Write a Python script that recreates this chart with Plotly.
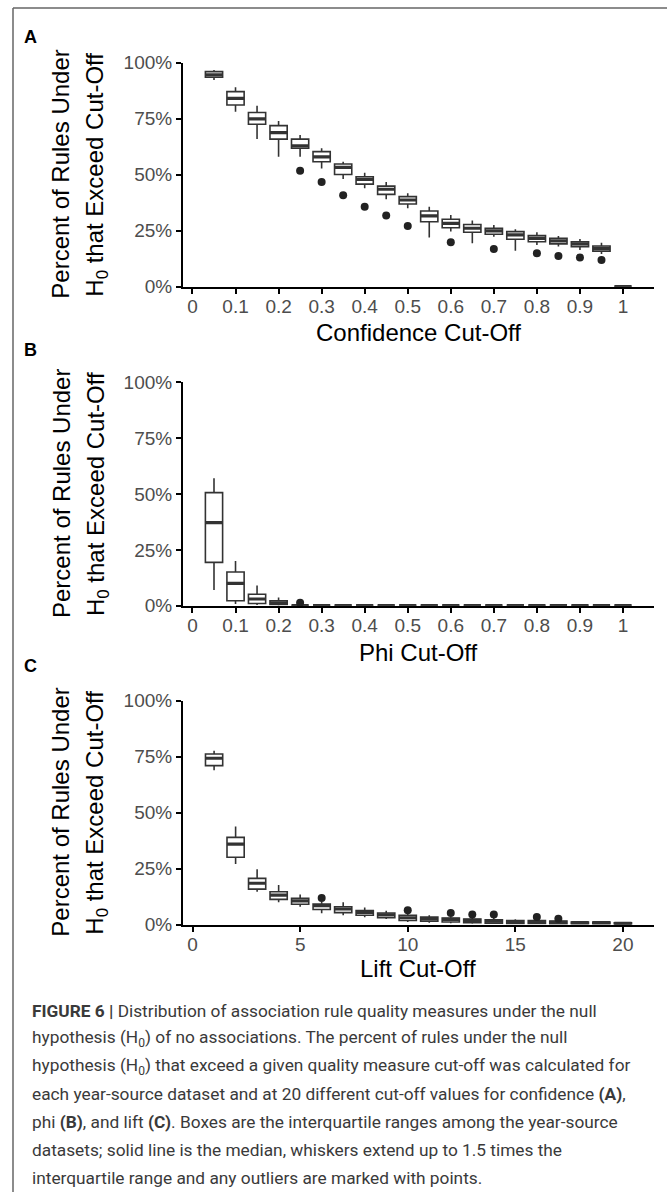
import plotly.graph_objects as go

W, H = 667, 1192

# ---------------- data ----------------
conf_x = [0.05, 0.10, 0.15, 0.20, 0.25, 0.30, 0.35, 0.40, 0.45, 0.50,
          0.55, 0.60, 0.65, 0.70, 0.75, 0.80, 0.85, 0.90, 0.95, 1.00]
conf_lo = [92.3, 78.1, 65.9, 58.0, 58.0, 52.8, 48.1, 43.9, 39.0, 35.0,
           22.0, 24.6, 19.4, 22.3, 16.1, 18.6, 17.9, 16.4, 14.6, 0.0]
conf_q1 = [93.5, 81.1, 72.5, 65.9, 61.8, 55.8, 50.1, 45.8, 41.2, 36.9,
           29.0, 26.3, 24.3, 23.4, 21.2, 20.1, 19.1, 17.9, 15.9, 0.0]
conf_med = [94.6, 84.1, 74.9, 68.8, 62.9, 58.0, 53.3, 47.9, 43.5, 38.7,
            31.6, 28.3, 26.1, 24.9, 23.1, 21.6, 20.5, 19.1, 17.1, 0.0]
conf_q3 = [96.0, 87.1, 77.8, 71.9, 65.9, 60.3, 54.8, 49.1, 44.9, 40.2,
           33.8, 30.1, 27.8, 26.1, 24.6, 22.8, 21.6, 20.1, 18.2, 0.0]
conf_hi = [96.7, 89.0, 80.8, 74.0, 67.7, 61.8, 55.8, 50.9, 46.7, 41.7,
           35.7, 32.0, 29.5, 27.5, 25.6, 24.3, 22.6, 21.3, 19.6, 0.0]
conf_out_x = [0.25, 0.30, 0.35, 0.40, 0.45, 0.50, 0.60, 0.70, 0.80, 0.85, 0.90, 0.95]
conf_out_y = [51.8, 46.7, 40.8, 35.7, 31.8, 27.1, 19.8, 16.8, 14.9, 13.7, 13.0, 11.9]

phi_x = conf_x
phi_lo = [7.0, 0.8, 0.3, 0.1] + [0.0] * 16
phi_q1 = [19.4, 2.2, 1.0, 0.6] + [0.0] * 16
phi_med = [37.2, 10.0, 3.0, 1.3] + [0.0] * 16
phi_q3 = [50.6, 15.1, 5.1, 2.2] + [0.0] * 16
phi_hi = [57.0, 20.0, 9.0, 3.7] + [0.0] * 16
phi_out_x = [0.25]
phi_out_y = [1.3]

lift_x = list(range(1, 21))
lift_lo = [69.0, 27.1, 14.7, 10.0, 8.0, 5.1, 4.2, 3.3, 2.5, 1.2,
           0.9, 0.7, 0.4, 0.4, 0.3, 0.3, 0.3, 0.3, 0.3, 0.1]
lift_q1 = [71.0, 30.1, 15.9, 11.3, 9.1, 6.8, 5.4, 4.2, 3.1, 1.9,
           1.6, 1.2, 0.9, 0.7, 0.6, 0.6, 0.4, 0.4, 0.4, 0.3]
lift_med = [74.3, 36.0, 18.5, 13.2, 10.6, 8.5, 7.0, 5.5, 4.4, 3.1,
            2.7, 2.4, 1.9, 1.6, 1.3, 1.2, 1.0, 0.9, 0.9, 0.6]
lift_q3 = [76.2, 39.0, 20.7, 14.7, 11.8, 9.2, 8.0, 6.3, 5.2, 4.2,
           3.4, 3.0, 2.5, 2.2, 1.9, 1.9, 1.6, 1.2, 1.2, 0.9]
lift_hi = [77.7, 43.8, 24.7, 17.7, 13.5, 10.3, 10.0, 7.7, 6.2, 4.9,
           4.2, 3.7, 3.4, 3.0, 2.4, 2.2, 1.9, 1.3, 1.5, 1.0]
lift_out_x = [6, 10, 12, 13, 14, 16, 17]
lift_out_y = [11.9, 6.4, 5.2, 4.6, 4.6, 3.4, 2.7]

cut_ticks = [0, 0.1, 0.2, 0.3, 0.4, 0.5, 0.6, 0.7, 0.8, 0.9, 1]
cut_ticktext = ["0", "0.1", "0.2", "0.3", "0.4", "0.5", "0.6", "0.7", "0.8", "0.9", "1"]
lift_ticks = [0, 5, 10, 15, 20]
lift_ticktext = ["0", "5", "10", "15", "20"]
y_ticks = [0, 25, 50, 75, 100]
y_ticktext = ["0%", "25%", "50%", "75%", "100%"]

x_titles = ["Confidence Cut-Off", "Phi Cut-Off", "Lift Cut-Off"]
panel_labels = ["A", "B", "C"]
caption_lines = [
    "<b>FIGURE 6 |</b> Distribution of association rule quality measures under the null",
    "hypothesis (H<sub>0</sub>) of no associations. The percent of rules under the null",
    "hypothesis (H<sub>0</sub>) that exceed a given quality measure cut-off was calculated for",
    "each year-source dataset and at 20 different cut-off values for confidence <b>(A)</b>,",
    "phi <b>(B)</b>, and lift <b>(C)</b>. Boxes are the interquartile ranges among the year-source",
    "datasets; solid line is the median, whiskers extend up to 1.5 times the",
    "interquartile range and any outliers are marked with points.",
]

# ---------------- layout helpers ----------------
def px(x):
    return x / W

def py(y):
    return 1 - y / H

FONT = "Liberation Sans, Arial, sans-serif"
BOXCOL = "#333333"
TICKCOL = "#4d4d4d"

panels = [
    dict(x=conf_x, lo=conf_lo, q1=conf_q1, med=conf_med, q3=conf_q3, hi=conf_hi,
         ox=conf_out_x, oy=conf_out_y, width=0.04, xr=[-0.022, 1.072],
         tv=cut_ticks, tt=cut_ticktext, top=62.7, bot=286.7,
         title_y=332, label_y=37),
    dict(x=phi_x, lo=phi_lo, q1=phi_q1, med=phi_med, q3=phi_q3, hi=phi_hi,
         ox=phi_out_x, oy=phi_out_y, width=0.04, xr=[-0.022, 1.072],
         tv=cut_ticks, tt=cut_ticktext, top=382.3, bot=605.7,
         title_y=652, label_y=350),
    dict(x=lift_x, lo=lift_lo, q1=lift_q1, med=lift_med, q3=lift_q3, hi=lift_hi,
         ox=lift_out_x, oy=lift_out_y, width=0.8, xr=[-0.445, 21.445],
         tv=lift_ticks, tt=lift_ticktext, top=700.7, bot=924.7,
         title_y=969, label_y=666),
]

fig = go.Figure()
annotations = []
layout_axes = {}
X0, X1 = 183, 654

for i, p in enumerate(panels):
    n = "" if i == 0 else str(i + 1)
    xa, ya = "x" + n, "y" + n
    fig.add_trace(go.Box(
        x=p["x"], q1=p["q1"], median=p["med"], q3=p["q3"],
        lowerfence=p["lo"], upperfence=p["hi"], width=p["width"],
        fillcolor="white", line=dict(color=BOXCOL, width=1.6),
        whiskerwidth=0, boxpoints=False, showlegend=False,
        xaxis=xa, yaxis=ya, hoverinfo="skip"))
    # thicker median line (ggplot style)
    mx, my = [], []
    hw = p["width"] / 2
    for xv, mv in zip(p["x"], p["med"]):
        mx += [xv - hw, xv + hw, None]
        my += [mv, mv, None]
    fig.add_trace(go.Scatter(x=mx, y=my, mode="lines",
                             line=dict(color=BOXCOL, width=3.2),
                             showlegend=False, xaxis=xa, yaxis=ya, hoverinfo="skip"))
    fig.add_trace(go.Scatter(x=p["ox"], y=p["oy"], mode="markers",
                             marker=dict(color="#222222", size=8),
                             showlegend=False, xaxis=xa, yaxis=ya, hoverinfo="skip",
                             cliponaxis=False))
    common = dict(ticks="outside", ticklen=5, tickwidth=1.5, tickcolor="black",
                  showline=True, linewidth=2, linecolor="black", showgrid=False,
                  zeroline=False, automargin=False, fixedrange=True,
                  tickfont=dict(family=FONT, size=19, color=TICKCOL))
    layout_axes["xaxis" + n] = dict(
        domain=[px(X0), px(X1)], range=p["xr"], anchor=ya, ticklabelstandoff=-4,
        tickmode="array", tickvals=p["tv"], ticktext=p["tt"], **common)
    layout_axes["yaxis" + n] = dict(
        domain=[py(p["bot"]), py(p["top"])], range=[0, 100], anchor=xa,
        tickmode="array", tickvals=y_ticks, ticktext=y_ticktext, **common)
    cy = (p["top"] + p["bot"]) / 2
    annotations.append(dict(x=px(61), y=py(cy), xref="paper", yref="paper",
                            text="Percent of Rules Under", textangle=-90, showarrow=False,
                            xanchor="center", yanchor="middle",
                            font=dict(family=FONT, size=24, color="black")))
    annotations.append(dict(x=px(97), y=py(cy), xref="paper", yref="paper",
                            text="H<sub>0</sub> that Exceed Cut-Off", textangle=-90,
                            showarrow=False, xanchor="center", yanchor="middle",
                            font=dict(family=FONT, size=24, color="black")))
    annotations.append(dict(x=px((X0 + X1) / 2), y=py(p["title_y"]), xref="paper", yref="paper",
                            text=x_titles[i], showarrow=False, xanchor="center", yanchor="middle",
                            font=dict(family=FONT, size=24, color="black")))
    annotations.append(dict(x=px(30), y=py(p["label_y"]), xref="paper", yref="paper",
                            text="<b>" + panel_labels[i] + "</b>", showarrow=False,
                            xanchor="center", yanchor="middle",
                            font=dict(family=FONT, size=18, color="black")))

cap_y0, cap_dy = 1011, 27.8
for k, line in enumerate(caption_lines):
    annotations.append(dict(x=px(30), y=py(cap_y0 + k * cap_dy), xref="paper", yref="paper",
                            text=line, showarrow=False, xanchor="left", yanchor="middle",
                            font=dict(family="Roboto, sans-serif",
                                      size=17.3, color="#3a3a3a")))

shapes = [
    dict(type="line", xref="paper", yref="paper", x0=px(13), x1=1.0, y0=py(8), y1=py(8),
         line=dict(color="#666666", width=1.5)),
    dict(type="line", xref="paper", yref="paper", x0=px(13), x1=px(13), y0=py(8), y1=0,
         line=dict(color="#666666", width=1.5)),
]

fig.update_layout(width=W, height=H, margin=dict(l=0, r=0, t=0, b=0, autoexpand=False),
                  paper_bgcolor="white", plot_bgcolor="white", template="none",
                  annotations=annotations, shapes=shapes, **layout_axes)

fig.write_html("out.html", config={"displayModeBar": False},
               post_script="document.body.style.margin='0';"
                           "document.body.style.overflow='hidden';"
                           "document.documentElement.style.overflow='hidden';")
